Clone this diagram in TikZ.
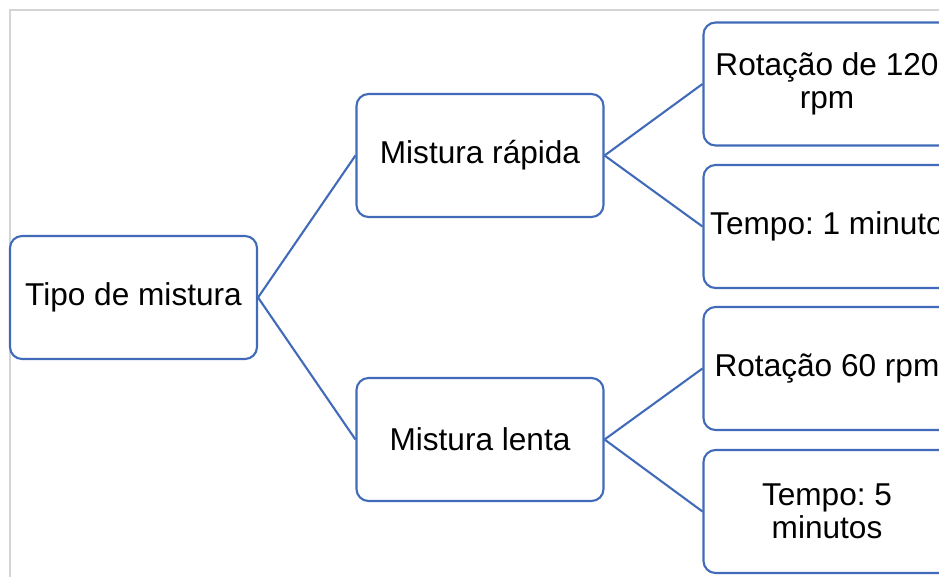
\documentclass[tikz,border=0pt]{standalone}
\usepackage{fontspec}
\setmainfont{Liberation Sans}
\definecolor{nodeblue}{HTML}{416BB8}
\definecolor{framegray}{HTML}{D4D4D4}
\frenchspacing
\begin{document}
\begin{tikzpicture}[x=1pt,y=-1pt,
  box/.style={draw=nodeblue, line width=2.1pt, rounded corners=12pt, fill=white,
    minimum width=247pt, minimum height=123pt, inner sep=0pt, align=center,
    font=\fontsize{31.6}{33.5}\selectfont},
  link/.style={draw=nodeblue, line width=2.1pt}]
\useasboundingbox (0,0) rectangle (939,576);
\clip (0,0) rectangle (939,576);
\draw[framegray, line width=2.5pt] (10,1000) -- (10,10) -- (1000,10);
\node[box] (tipo) at (133.5,297.5) {Tipo de mistura};
\node[box] (rapida) at (480,155.5) {Mistura rápida};
\node[box] (lenta) at (480,439.5) {Mistura lenta};
\node[box] (r1) at (827,84) {Rotação de 120\\rpm};
\node[box] (r2) at (827,226.5) {Tempo: 1 minuto};
\node[box] (l1) at (827,368.5) {Rotação 60 rpm};
\node[box] (l2) at (827,511.5) {Tempo: 5\\minutos};
\draw[link] (tipo.east) -- (rapida.west);
\draw[link] (tipo.east) -- (lenta.west);
\draw[link] (rapida.east) -- (r1.west);
\draw[link] (rapida.east) -- (r2.west);
\draw[link] (lenta.east) -- (l1.west);
\draw[link] (lenta.east) -- (l2.west);
\end{tikzpicture}
\end{document}
